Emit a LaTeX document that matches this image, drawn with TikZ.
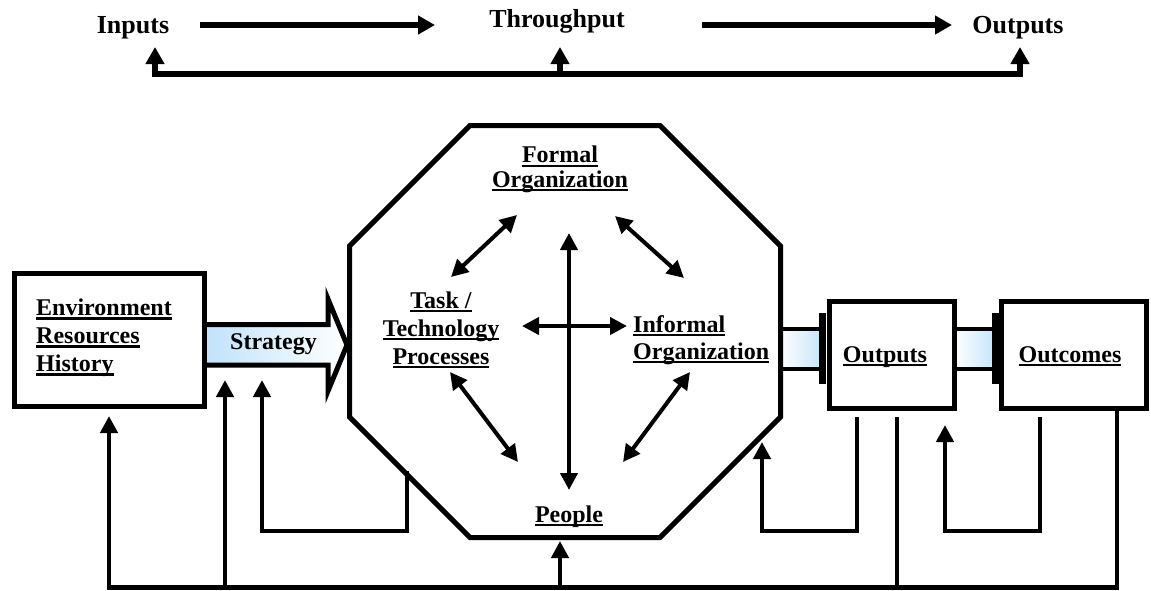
\documentclass[tikz,border=0pt]{standalone}
\usepackage{fontspec}
\usepackage{graphicx}
\setmainfont{Liberation Serif}
\usetikzlibrary{arrows.meta}

% thick underline for the labels
\newcommand\ulbox[1]{\setbox0=\hbox{#1}\leavevmode\rlap{\rule[-3.8pt]{\wd0}{2.2pt}}\box0}

\definecolor{skyfill}{RGB}{192,226,250}

\tikzset{
  lbl/.style={font=\fontsize{24}{28}\selectfont\bfseries, inner sep=0pt},
  toplbl/.style={font=\fontsize{26}{30}\selectfont\bfseries, inner sep=0pt},
  box/.style={draw, line width=5pt, fill=white, inner sep=0pt},
  octa/.style={draw, line width=5pt},
  rail/.style={line width=4.5pt},
  fb/.style={line width=4.5pt, -{Triangle[length=17pt,width=17pt]}},
  topfb/.style={line width=6pt, -{Triangle[length=17pt,width=18pt]}},
  topboth/.style={line width=6pt, {Triangle[length=17pt,width=18pt]}-{Triangle[length=17pt,width=18pt]}},
  dbl/.style={line width=4pt, {Triangle[length=17pt,width=17pt]}-{Triangle[length=17pt,width=17pt]}},
  stub/.style={line width=7pt},
}

\begin{document}
\begin{tikzpicture}[x=1pt,y=-1pt]
\useasboundingbox (0,0) rectangle (1151,590);

% ---------- top row: inputs, throughput, outputs ----------
\node[toplbl, anchor=base] (tin)  at (133,33) {Inputs};
\node[toplbl, anchor=base] (tthr) at (557,27) {Throughput};
\node[toplbl, anchor=base] (tout) at (1018,33) {Outputs};

\coordinate (a1s) at (200,25);  \coordinate (a1e) at (435,25);
\coordinate (a2s) at (702,25);  \coordinate (a2e) at (952,25);
\draw[topfb] (a1s) -- (a1e);
\draw[topfb] (a2s) -- (a2e);

\coordinate (tinU)  at (155,47);   \coordinate (tinR)  at (155,73.5);
\coordinate (toutU) at (1020,47);  \coordinate (toutR) at (1020,73.5);
\coordinate (tthrU) at (560,47);   \coordinate (tthrR) at (560,73.5);
\draw[topboth] (tinU) -- (tinR) -- (toutR) -- (toutU);
\draw[topfb] (tthrR) -- (tthrU);

% ---------- strategy block arrow ----------
\path[draw, line width=5pt, left color=skyfill, right color=white]
  (204.5,324.5) -- (328,324.5) -- (328,299) -- (347,345) -- (328,391)
  -- (328,365) -- (204.5,365);
\node[lbl, anchor=base] (strategy) at (273.5,349) {Strategy};

% ---------- small block arrows into the output boxes ----------
\path[left color=white, right color=skyfill]
  (780.5,329) -- (818,329) -- (826,349) -- (818,369) -- (780.5,369) -- cycle;
\draw[rail] (780.5,329) -- (822,329) (780.5,369) -- (822,369);
\draw[stub] (822,313) -- (822,384);

\path[left color=white, right color=skyfill]
  (954.5,329) -- (991,329) -- (999,349) -- (991,369) -- (954.5,369) -- cycle;
\draw[rail] (954.5,329) -- (995,329) (954.5,369) -- (995,369);
\draw[stub] (995,313) -- (995,384);

% ---------- boxes ----------
\node[box, minimum width=190pt, minimum height=133.5pt] (env) at (109.5,339.75) {};
\node[lbl, anchor=west, align=left] (envtxt) at (36,338)
  {\ulbox{Environment}\\\ulbox{Resources}\\\ulbox{History}};

\node[box, minimum width=125pt, minimum height=107pt] (outputs) at (892,354.5) {};
\node[lbl, anchor=base] (outputstxt) at (885,362) {\ulbox{Outputs}};

\node[box, minimum width=145pt, minimum height=107pt] (outcomes) at (1073.5,354.5) {};
\node[lbl, anchor=base] (outcomestxt) at (1070,362) {\ulbox{Outcomes}};

% ---------- organization octagon ----------
\coordinate (o1) at (470,125.5);  \coordinate (o2) at (660,125.5);
\coordinate (o3) at (780.5,246);  \coordinate (o4) at (780.5,417);
\coordinate (o5) at (660,537.5);  \coordinate (o6) at (470,537.5);
\coordinate (o7) at (349.5,417);  \coordinate (o8) at (349.5,246);
\draw[octa] (o1) -- (o2) -- (o3) -- (o4) -- (o5) -- (o6) -- (o7) -- (o8) -- cycle;

\node[lbl, align=center, font=\fontsize{24}{24.5}\selectfont\bfseries] (formal) at (560,169.5)
  {\ulbox{Formal}\\\ulbox{Organization}};
\node[lbl, align=center] (task) at (441,330)
  {\ulbox{Task /}\\\ulbox{Technology}\\\ulbox{Processes}};
\node[lbl, align=left, anchor=west, font=\fontsize{24}{27}\selectfont\bfseries] (informal) at (633,340)
  {\ulbox{Informal}\\\ulbox{Organization}};
\node[lbl, anchor=base] (people) at (569,522) {\ulbox{People}};

% links between the four components
\coordinate (vt) at (569,233);  \coordinate (vb) at (569,490);
\coordinate (hl) at (522,326);  \coordinate (hr) at (627,326);
\draw[dbl] (vt) -- (vb);
\draw[dbl] (hl) -- (hr);
\coordinate (ul1) at (451,277); \coordinate (ul2) at (517,215);
\coordinate (ur1) at (684,278); \coordinate (ur2) at (615,216);
\coordinate (ll1) at (450,372); \coordinate (ll2) at (518,462);
\coordinate (lr1) at (690,372); \coordinate (lr2) at (623,462);
\draw[dbl] (ul1) -- (ul2);
\draw[dbl] (ur1) -- (ur2);
\draw[dbl] (ll1) -- (ll2);
\draw[dbl] (lr1) -- (lr2);

% ---------- feedback loops ----------
\coordinate (railL) at (109,587.5);   \coordinate (railR) at (1117,587.5);
\coordinate (outcDown) at (1117,408);
\coordinate (envUp) at (109,416);
\draw[fb] (outcDown) -- (railR) -- (railL) -- (envUp);

\coordinate (s1B) at (225,587.5); \coordinate (s1U) at (225,380);
\draw[fb] (s1B) -- (s1U);
\coordinate (pB) at (560,587.5);  \coordinate (pU) at (560,541);
\draw[fb] (pB) -- (pU);
\coordinate (oD) at (897,417);    \coordinate (oB) at (897,587.5);
\draw[rail] (oD) -- (oB);

\coordinate (sl1) at (407,471); \coordinate (sl2) at (407,531);
\coordinate (sl3) at (262,531); \coordinate (sl4) at (262,380);
\draw[fb] (sl1) -- (sl2) -- (sl3) -- (sl4);

\coordinate (ol1) at (857,417); \coordinate (ol2) at (857,531);
\coordinate (ol3) at (762,531); \coordinate (ol4) at (762,442);
\draw[fb] (ol1) -- (ol2) -- (ol3) -- (ol4);

\coordinate (cl1) at (1040,417); \coordinate (cl2) at (1040,531);
\coordinate (cl3) at (945,531);  \coordinate (cl4) at (945,425);
\draw[fb] (cl1) -- (cl2) -- (cl3) -- (cl4);
\end{tikzpicture}
\end{document}
